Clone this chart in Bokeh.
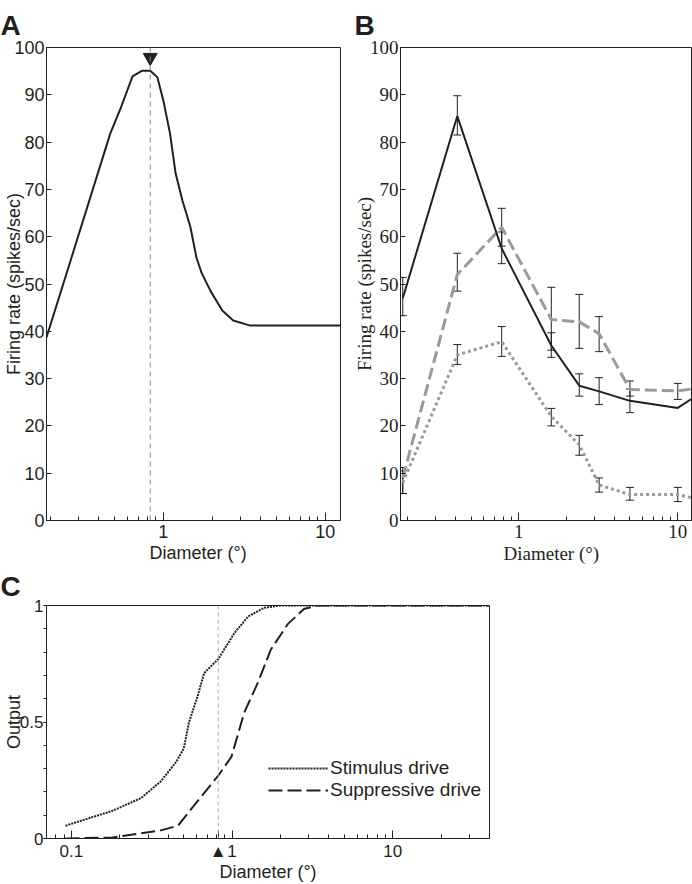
import math
from bokeh.plotting import figure
from bokeh.models import (FixedTicker, SingleIntervalTicker, CustomJSTickFormatter, Span, Title,
                          Whisker, TeeHead, ColumnDataSource, Legend, LegendItem, Range1d)
from bokeh.layouts import column, row
from bokeh.embed import file_html
from bokeh.resources import INLINE

INK = "#231f20"
GRAY = "#9a9a9a"
SANS = "Liberation Sans"
SERIF = "Liberation Serif"

# ---------------- data ----------------
panel_letters = ["A", "B", "C"]

# Panel A: model size tuning curve
a_diam = [0.19, 0.27, 0.47, 0.543, 0.645, 0.74, 0.83, 0.918, 1.0, 1.10, 1.19, 1.31, 1.47,
          1.60, 1.72, 1.95, 2.31, 2.70, 3.44, 5.0, 12.4]
a_rate = [38.7, 55.4, 81.8, 87.0, 93.9, 95.1, 95.1, 93.7, 88.8, 81.8, 73.4, 67.7, 62.0,
          55.6, 52.4, 48.6, 44.4, 42.3, 41.2, 41.2, 41.2]
a_opt_diam = 0.83

# Panel B: measured size tuning, three conditions
b_diam = [0.186, 0.41, 0.78, 1.6, 2.4, 3.2, 5.0, 10.0, 20.0]
b_solid = [47.0, 85.5, 57.5, 37.0, 28.5, 27.3, 25.3, 23.8, 30.4]
b_solid_lo = [43.3, 81.5, 54.3, 34.5, 26.3, 24.5, 22.8]
b_solid_hi = [51.4, 89.8, 61.0, 39.7, 31.0, 30.2, 27.8]
b_dash = [9.0, 52.0, 62.0, 42.5, 42.0, 39.5, 27.7, 27.4, 28.8]
b_dash_lo = [5.7, 48.5, 58.0, 36.0, 36.4, 35.7, 26.3, 25.6]
b_dash_hi = [11.2, 56.5, 66.0, 49.3, 47.8, 43.1, 29.5, 29.0]
b_dot = [8.0, 35.0, 37.8, 22.0, 16.0, 7.5, 5.5, 5.5, 3.1]
b_dot_lo = [5.7, 33.0, 34.7, 20.0, 13.8, 6.0, 4.3, 4.0]
b_dot_hi = [10.5, 37.2, 41.0, 23.7, 18.0, 9.0, 7.0, 7.0]

# Panel C: stimulus and suppressive drive
c_stim_diam = [0.092, 0.182, 0.272, 0.36, 0.45, 0.50, 0.54, 0.61, 0.67, 0.82, 1.03, 1.26, 1.58, 2.0, 40.0]
c_stim = [0.055, 0.12, 0.174, 0.245, 0.33, 0.386, 0.50, 0.61, 0.71, 0.77, 0.88, 0.953, 0.99, 1.0, 1.0]
c_sup_diam = [0.092, 0.18, 0.36, 0.46, 0.61, 0.82, 0.99, 1.19, 1.45, 1.74, 2.22, 2.8, 3.4, 40.0]
c_sup = [0.0, 0.004, 0.035, 0.055, 0.16, 0.27, 0.35, 0.54, 0.67, 0.81, 0.92, 0.985, 1.0, 1.0]
c_opt_diam = 0.82
c_labels = ["Stimulus drive", "Suppressive drive"]

major_log = [0.1, 1, 10]
minor_log = [0.08, 0.09, 0.2, 0.3, 0.4, 0.5, 0.6, 0.7, 0.8, 0.9,
             2, 3, 4, 5, 6, 7, 8, 9, 20, 30]

fmt_log = CustomJSTickFormatter(code="return tick >= 1 ? tick.toFixed(0) : tick.toFixed(1);")


def base_fig(width, height, xr, yr, l, r, t, b):
    p = figure(width=width, height=height, x_axis_type="log",
               x_range=Range1d(*xr), y_range=Range1d(*yr),
               output_backend="svg", toolbar_location=None,
               min_border_left=l, min_border_right=r, min_border_top=t, min_border_bottom=b)
    p.grid.visible = False
    p.outline_line_color = INK
    p.outline_line_alpha = 1
    p.background_fill_color = "white"
    p.border_fill_color = "white"
    return p


def style_axis(ax, font, size, label=None, label_standoff=0, label_size=18):
    ax.axis_line_color = INK
    ax.major_tick_line_color = INK
    ax.minor_tick_line_color = INK
    ax.major_label_text_font = font
    ax.major_label_text_font_size = f"{size}px"
    ax.major_label_text_color = INK
    if label is not None:
        ax.axis_label = label
        ax.axis_label_text_font = font
        ax.axis_label_text_font_size = f"{label_size}px"
        ax.axis_label_text_font_style = "normal"
        ax.axis_label_text_color = INK
        ax.axis_label_standoff = label_standoff


def letter(p, text, offset, standoff, valign="bottom"):
    p.add_layout(Title(text=text, align="left", vertical_align=valign, offset=offset,
                       standoff=standoff, text_font=SANS, text_font_size="28px",
                       text_font_style="bold", text_color=INK), "above")


def bottom_title(p, text, font, size, offset, standoff):
    p.add_layout(Title(text=text, align="left", offset=offset, standoff=standoff,
                       text_font=font, text_font_size=f"{size}px", text_font_style="normal",
                       text_color=INK), "below")


def log_x_axis(p, font, size, ticks, label=None, standoff=0):
    ax = p.xaxis[0]
    ax.ticker = FixedTicker(ticks=ticks, minor_ticks=minor_log)
    style_axis(ax, font, size, label, standoff)
    ax.major_tick_in = 8
    ax.major_tick_out = 0
    ax.minor_tick_in = 4
    ax.minor_tick_out = 0
    ax.major_label_standoff = 4
    return ax


# ---------------- Panel A ----------------
pA = base_fig(350, 568, (0.19, 12.4), (0, 100), 46, 10, 47, 48)
ax = log_x_axis(pA, SANS, 18, [1, 10])
ax.formatter = fmt_log
ay = pA.yaxis[0]
ay.ticker = SingleIntervalTicker(interval=10, num_minor_ticks=0)
style_axis(ay, SANS, 18, "Firing rate (spikes/sec)", -13)
ay.major_tick_in = 5
ay.major_tick_out = 0
ay.major_label_standoff = 2

pA.add_layout(Span(location=a_opt_diam, dimension="height", line_color="#8a8a8a",
                   line_width=1, line_dash="5 4"))
pA.line(a_diam, a_rate, line_color=INK, line_width=2)
pA.scatter([a_opt_diam], [97.9], marker="inverted_triangle", size=14,
           fill_color=INK, line_color=INK)
letter(pA, panel_letters[0], -46, 14)
bottom_title(pA, "Diameter (°)", SANS, 18, 103, 0)

# ---------------- Panel B ----------------
pB = base_fig(342, 568, (0.18, 12.2), (0, 100), 49, 1, 47, 48)
bx = log_x_axis(pB, SERIF, 19, [1, 10])
bx.formatter = fmt_log
by = pB.yaxis[0]
by.ticker = SingleIntervalTicker(interval=10, num_minor_ticks=0)
style_axis(by, SERIF, 19, "Firing rate (spikes/sec)", -8, 19)
by.major_tick_in = 5
by.major_tick_out = 0
by.major_label_standoff = 2

pB.line(b_diam, b_dot, line_color=GRAY, line_width=3, line_dash="3 3")
pB.line(b_diam, b_dash, line_color=GRAY, line_width=3, line_dash="12 5")
pB.line(b_diam, b_solid, line_color=INK, line_width=2)

for lo, hi in ((b_dot_lo, b_dot_hi), (b_dash_lo, b_dash_hi), (b_solid_lo, b_solid_hi)):
    n = len(lo)
    src = ColumnDataSource(dict(x=b_diam[:n], lo=lo, hi=hi))
    pB.add_layout(Whisker(source=src, base="x", lower="lo", upper="hi",
                          line_color=INK, line_width=1,
                          lower_head=TeeHead(size=8, line_color=INK, line_width=1),
                          upper_head=TeeHead(size=8, line_color=INK, line_width=1)))
letter(pB, panel_letters[1], -46, 14)
bottom_title(pB, "Diameter (°)", SERIF, 19, 103, 0)

# ---------------- Panel C ----------------
pC = base_fig(500, 316, (0.07, 40), (0, 1), 46, 11, 37, 43)
cx = log_x_axis(pC, SANS, 17, major_log + [c_opt_diam], "Diameter (°)", -2)
cx.major_label_standoff = 3
cx.formatter = CustomJSTickFormatter(code=(
    "if (Math.abs(tick - %r) < 1e-6) return '\\u25B2';"
    "return tick >= 1 ? tick.toFixed(0) : tick.toFixed(1);") % c_opt_diam)
cy = pC.yaxis[0]
cy.ticker = SingleIntervalTicker(interval=0.5, num_minor_ticks=5)
cy.formatter = CustomJSTickFormatter(code="return tick == 0.5 ? '0.5' : tick.toFixed(0);")
style_axis(cy, SANS, 17, "Output", -7)
cy.major_tick_in = 0
cy.major_tick_out = 3
cy.minor_tick_in = 0
cy.minor_tick_out = 3
cy.major_label_standoff = 0

pC.add_layout(Span(location=c_opt_diam, dimension="height", line_color="#aaaaaa",
                   line_width=1, line_dash="4 3"))
r_stim = pC.line(c_stim_diam, c_stim, line_color=INK, line_width=2, line_dash="2 1")
r_sup = pC.line(c_sup_diam, c_sup, line_color=INK, line_width=2, line_dash="14 5")

leg = Legend(items=[LegendItem(label=c_labels[0], renderers=[r_stim]),
                    LegendItem(label=c_labels[1], renderers=[r_sup])],
             location=(222, 37), border_line_color=None, background_fill_alpha=0,
             padding=0, margin=0, spacing=0, glyph_width=60, glyph_height=20,
             label_height=20, label_standoff=2, label_text_font=SANS,
             label_text_font_size="19px", label_text_color=INK)
pC.add_layout(leg)
letter(pC, panel_letters[2], -46, 4, "top")

layout = column(row(pA, pB), pC)
open("out.html", "w").write(file_html(layout, INLINE))
